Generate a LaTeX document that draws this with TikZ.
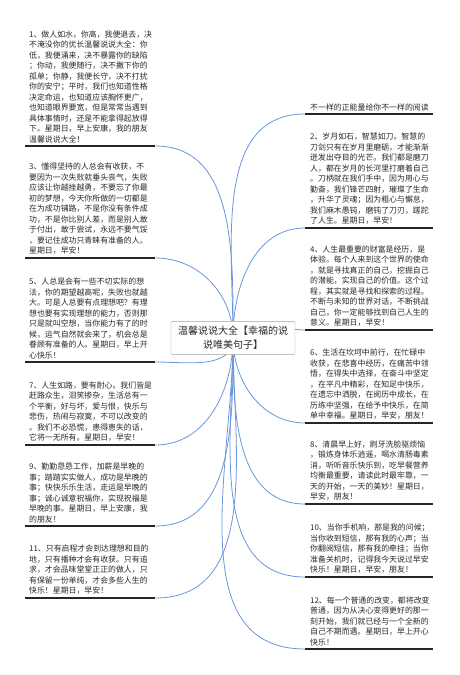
\documentclass[tikz,border=0pt]{standalone}
\usepackage{fontspec}
\newfontfamily\cjk{Noto Sans CJK SC}
\usetikzlibrary{backgrounds}
\definecolor{mmblue}{RGB}{104,150,222}
\definecolor{mmtext}{RGB}{40,40,40}
\definecolor{mmframe}{RGB}{160,160,160}

\begin{document}
\begin{tikzpicture}[x=1pt,y=-1pt,
    every node/.style={font=\cjk\fontsize{7.9}{10.5}\selectfont,text=mmtext,align=left},
    leaf/.style={text width=122pt,inner xsep=4pt,inner ysep=3pt,anchor=south west},
    rleaf/.style={text width=118pt,inner xsep=5pt,inner ysep=3pt,anchor=south west},
    hub/.style={draw=mmframe,fill=white,rounded corners=2pt,align=center,inner xsep=7pt,inner ysep=5pt,
      font=\cjk\fontsize{10}{14}\selectfont},
    uline/.style={draw=black!85,line width=1.1pt},
    branch/.style={draw=mmblue,line width=0.8pt}]
  \useasboundingbox (0,0) rectangle (459,675);
  % centre
  \node[hub] (c) at (233,338) {温馨说说大全【幸福的说\\说唯美句子】};
  % left side
  \node[leaf] (n1) at (25,146) {1、做人如水，你高，我便退去，决\\不淹没你的优长温馨说说大全：你\\低，我便涌来，决不暴露你的缺陷\\；你动，我便随行，决不撇下你的\\孤单；你静，我便长守，决不打扰\\你的安宁；平时，我们也知道性格\\决定命运，也知道应该胸怀更广，\\也知道眼界要宽，但是常常当遇到\\具体事情时，还是不能拿得起放得\\下。星期日，早上安康，我的朋友\\温馨说说大全！};
  \node[leaf] (n3) at (25,258) {3、懂得坚持的人总会有收获，不\\要因为一次失败就垂头丧气，失败\\应该让你越挫越勇，不要忘了你最\\初的梦想，今天你所做的一切都是\\在为成功铺路，不是你没有条件成\\功，不是你比别人差，而是别人敢\\于付出，敢于尝试，永远不要气馁\\，要记住成功只青睐有准备的人。\\星期日，早安！};
  \node[leaf] (n5) at (25,362) {5、人总是会有一些不切实际的想\\法，你的期望越高呢，失败也就越\\大。可是人总要有点理想吧？有理\\想也要有实现理想的能力，否则那\\只是就叫空想，当你能力有了的时\\候，运气自然就会来了，机会总是\\眷顾有准备的人。星期日，早上开\\心快乐！};
  \node[leaf] (n7) at (25,445) {7、人生如路，要有耐心。我们皆是\\赶路众生，泪笑掺杂，生活总有一\\个平衡，好与坏，爱与恨，快乐与\\悲伤，热闹与寂寞，不可以改变的\\。我们不必恐慌，患得患失的话，\\它将一无所有。星期日，早安！};
  \node[leaf] (n9) at (25,526) {9、勤勤恳恳工作，加薪是早晚的\\事；踏踏实实做人，成功是早晚的\\事；快快乐乐生活，走运是早晚的\\事；诚心诚意祝福你，实现祝福是\\早晚的事。星期日，早上安康，我\\的朋友！};
  \node[leaf] (n11) at (25,598) {11、只有启程才会到达理想和目的\\地，只有播种才会有收获。只有追\\求，才会品味堂堂正正的做人，只\\有保留一份单纯，才会多些人生的\\快乐！星期日，早安！};
  % right side
  \node[rleaf] (top) at (305,114) {不一样的正能量给你不一样的阅读};
  \node[rleaf] (n2) at (305,228) {2、岁月如石，智慧如刀。智慧的\\刀剑只有在岁月里磨砺，才能渐渐\\迸发出夺目的光芒。我们都是磨刀\\人，都在岁月的长河里打磨着自己\\。刀柄就在我们手中，因为用心与\\勤奋，我们锋芒四射，璀璨了生命\\，升华了灵魂；因为粗心与懈怠，\\我们麻木愚钝，磨钝了刀刃，蹉跎\\了人生。星期日，早安！};
  \node[rleaf] (n4) at (305,330) {4、人生最重要的财富是经历，是\\体验。每个人来到这个世界的使命\\，就是寻找真正的自己，挖掘自己\\的潜能，实现自己的价值。这个过\\程，其实就是寻找和探索的过程。\\不断与未知的世界对话，不断挑战\\自己，你一定能够找到自己人生的\\意义。星期日，早安！};
  \node[rleaf] (n6) at (305,423) {6、生活在坎坷中前行，在忙碌中\\收获，在悲喜中经历，在痛苦中领\\悟，在得失中选择，在奋斗中坚定\\，在平凡中精彩，在知足中快乐，\\在遗忘中洒脱，在阅历中成长，在\\历练中坚强，在给予中快乐，在简\\单中幸福。星期日，早安，朋友！};
  \node[rleaf] (n8) at (305,504) {8、清晨早上好，刷牙洗脸驱烦恼\\，锻炼身体乐逍遥，喝水清肠毒素\\消，听听音乐快乐到，吃早餐营养\\均衡最重要，请读此时最牢靠，一\\天的开始，一天的美妙！星期日，\\早安，朋友！};
  \node[rleaf] (n10) at (305,577) {10、当你手机响，那是我的问候；\\当你收到短信，那有我的心声；当\\你翻阅短信，那有我的牵挂；当你\\准备关机时，记得我今天说过早安\\快乐！星期日，早安，朋友！};
  \node[rleaf] (n12) at (305,649) {12、每一个普通的改变，都将改变\\普通，因为从决心变得更好的那一\\刻开始，我们就已经与一个全新的\\自己不期而遇。星期日，早上开心\\快乐！};
  % underlines
  \foreach \n in {n1,n3,n5,n7,n9,n11,top,n2,n4,n6,n8,n10,n12}
    \draw[uline] (\n.south west) -- (\n.south east);
  % branches
  \begin{scope}[on background layer]
    \foreach \n in {n1,n3}
      \draw[branch] (c.center) to[out=90,in=0] (\n.south east);
    \foreach \n in {n5,n7,n9,n11}
      \draw[branch] (c.center) to[out=-90,in=0] (\n.south east);
    \foreach \n in {top,n2,n4}
      \draw[branch] (c.center) to[out=90,in=180] (\n.south west);
    \foreach \n in {n6,n8,n10,n12}
      \draw[branch] (c.center) to[out=-90,in=180] (\n.south west);
  \end{scope}
\end{tikzpicture}
\end{document}
